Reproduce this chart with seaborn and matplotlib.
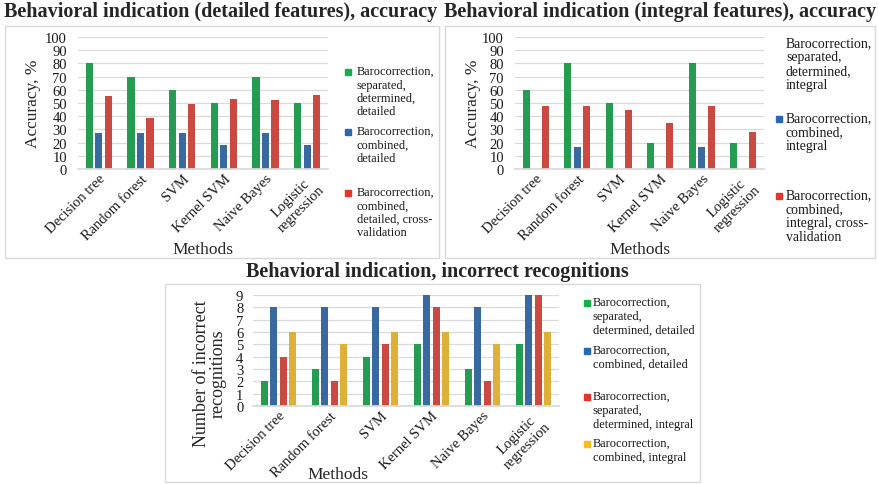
import numpy as np
import pandas as pd
import matplotlib
matplotlib.use("Agg")
import matplotlib.pyplot as plt
from matplotlib.patches import Rectangle
import seaborn as sns

# ---------------- data ----------------
methods = ["Decision tree", "Random forest", "SVM", "Kernel SVM", "Naive Bayes", "Logistic\nregression"]

det_sep = [80, 70, 60, 50, 70, 50]
det_comb = [27, 27, 27, 18, 27, 18]
det_cv = [55, 39, 49, 53, 52, 56]

int_sep = [60, 80, 50, 20, 80, 20]
int_comb = [0, 17, 0, 0, 17, 0]
int_cv = [48, 48, 45, 35, 48, 28]

err_sep_det = [2, 3, 4, 5, 3, 5]
err_comb_det = [8, 8, 8, 9, 8, 9]
err_sep_int = [4, 2, 5, 8, 2, 9]
err_comb_int = [6, 5, 6, 6, 5, 6]

lbl_det = ["Barocorrection,\nseparated,\ndetermined,\ndetailed",
           "Barocorrection,\ncombined,\ndetailed",
           "Barocorrection,\ncombined,\ndetailed, cross-\nvalidation"]
lbl_int = ["Barocorrection,\nseparated,\ndetermined,\nintegral",
           "Barocorrection,\ncombined,\nintegral",
           "Barocorrection,\ncombined,\nintegral, cross-\nvalidation"]
lbl_err = ["Barocorrection,\nseparated,\ndetermined, detailed",
           "Barocorrection,\ncombined, detailed",
           "Barocorrection,\nseparated,\ndetermined, integral",
           "Barocorrection,\ncombined, integral"]

GREEN, BLUE, RED, YELLOW = "#10B14D", "#2868B2", "#E3352A", "#FBBC1B"

# ---------------- style ----------------
sns.set_theme(style="white")
SERIF = ['Liberation Serif', 'DejaVu Serif']
plt.rcParams['font.family'] = SERIF

W, H = 879, 485
fig = plt.figure(figsize=(W / 100, H / 100), dpi=100)


def fx(x):
    return x / W


def fy(y):
    return 1 - y / H


def add_axes(x0, y0, x1, y1):
    return fig.add_axes([fx(x0), fy(y1), fx(x1) - fx(x0), (y1 - y0) / H])


def long_df(series_vals, series_names):
    rows = []
    for name, vals in zip(series_names, series_vals):
        for m, v in zip(methods, vals):
            rows.append({"method": m, "series": name, "value": v})
    return pd.DataFrame(rows)


def style_axes(ax, ymax, step, tick_fs, pad):
    ax.set_xlim(-0.5, len(methods) - 0.5)
    ax.set_ylim(0, ymax)
    ax.set_yticks(np.arange(0, ymax + 0.001, step))
    ax.yaxis.grid(True, color="#DADADA", linewidth=0.9)
    ax.set_axisbelow(True)
    for s in ["top", "right", "left"]:
        ax.spines[s].set_visible(False)
    ax.spines["bottom"].set_color("#D9D9D9")
    ax.tick_params(axis="both", length=0, labelcolor="#1a1a1a")
    ax.tick_params(axis="y", labelsize=tick_fs, pad=pad)
    ax.tick_params(axis="x", labelsize=10.5, pad=2)
    for lab in ax.get_xticklabels() + ax.get_yticklabels():
        lab.set_fontfamily(SERIF)
    for lab in ax.get_xticklabels():
        lab.set_rotation(45)
        lab.set_ha("right")
        lab.set_va("top")
        lab.set_rotation_mode("anchor")
        lab.set_multialignment("center")
    ax.set_xlabel("")
    ax.set_ylabel("")


def legend(entries, mx, tx, fs, ls):
    for color, text, y in entries:
        if color is not None:
            fig.patches.append(Rectangle((fx(mx), fy(y + 3.2)), 6.5 / W, 6.5 / H,
                                         transform=fig.transFigure, color=color, figure=fig))
        fig.text(fx(tx), fy(y - fs * 100 / 72 * 0.55), text, fontsize=fs, va="top", ha="left",
                 linespacing=ls, color="#1a1a1a")


def box(x0, y0, x1, y1):
    fig.patches.append(Rectangle((fx(x0), fy(y1)), (x1 - x0) / W, (y1 - y0) / H,
                                 transform=fig.transFigure, fill=False,
                                 edgecolor="#D9D9D9", linewidth=1.0, figure=fig))


# panel frames
box(5, 27, 439, 259)
box(445, 27, 875, 259)
box(165, 285, 700, 483)

# ---------------- top-left ----------------
ax1 = add_axes(78, 38, 328, 170)
df1 = long_df([det_sep, det_comb, det_cv], lbl_det)
sns.barplot(data=df1, x="method", y="value", hue="series", palette=[GREEN, BLUE, RED],
            width=0.684, gap=0.26, errorbar=None, linewidth=0, legend=False, ax=ax1)
style_axes(ax1, 100, 10, 10.5, 8)
fig.text(fx(33), fy(104), "Accuracy, %", rotation=90, fontsize=12.5, ha="center", va="center")
fig.text(fx(203), fy(250), "Methods", fontsize=12.5, ha="center", va="center")
fig.text(fx(221), fy(12), "Behavioral indication (detailed features), accuracy",
         fontsize=14.5, fontweight="bold", ha="center", va="center")
legend([(GREEN, lbl_det[0], 73), (BLUE, lbl_det[1], 133), (RED, lbl_det[2], 194)],
       345, 357, 8.9, 1.15)

# ---------------- top-right ----------------
ax2 = add_axes(515, 38, 764, 170)
df2 = long_df([int_sep, int_comb, int_cv], lbl_int)
sns.barplot(data=df2, x="method", y="value", hue="series", palette=[GREEN, BLUE, RED],
            width=0.684, gap=0.26, errorbar=None, linewidth=0, legend=False, ax=ax2)
style_axes(ax2, 100, 10, 10.5, 8)
fig.text(fx(473), fy(104), "Accuracy, %", rotation=90, fontsize=12.5, ha="center", va="center")
fig.text(fx(640), fy(250), "Methods", fontsize=12.5, ha="center", va="center")
fig.text(fx(660), fy(12), "Behavioral indication (integral features), accuracy",
         fontsize=14.5, fontweight="bold", ha="center", va="center")
legend([(None, lbl_int[0], 45), (BLUE, lbl_int[1], 120), (RED, lbl_int[2], 197)],
       776, 786, 9.9, 1.1)

# ---------------- bottom ----------------
ax3 = add_axes(253, 296, 559, 407)
df3 = long_df([err_sep_det, err_comb_det, err_sep_int, err_comb_int], lbl_err)
sns.barplot(data=df3, x="method", y="value", hue="series", palette=[GREEN, BLUE, RED, YELLOW],
            width=0.73, gap=0.25, errorbar=None, linewidth=0, legend=False, ax=ax3)
style_axes(ax3, 9, 1, 10.5, 7)
fig.text(fx(210), fy(374), "Number of incorrect\nrecognitions", rotation=90, fontsize=13,
         ha="center", va="center", linespacing=1.0)
fig.text(fx(338), fy(475), "Methods", fontsize=12.5, ha="center", va="center")
fig.text(fx(437), fy(272), "Behavioral indication, incorrect recognitions",
         fontsize=14.5, fontweight="bold", ha="center", va="center")
legend([(GREEN, lbl_err[0], 304), (BLUE, lbl_err[1], 352), (RED, lbl_err[2], 398),
        (YELLOW, lbl_err[3], 445)], 584, 593, 8.9, 1.2)

fig.savefig("out.png", dpi=100, facecolor="white")
